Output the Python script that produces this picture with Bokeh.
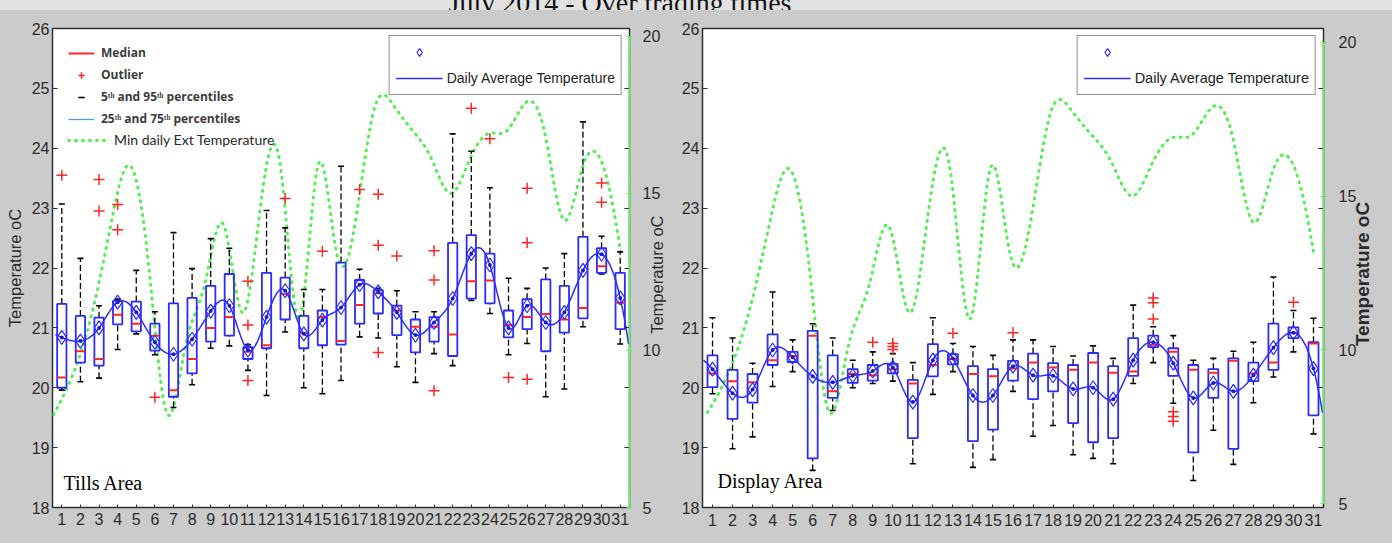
import numpy as np
from bokeh.plotting import figure
from bokeh.layouts import row, column
from bokeh.models import Range1d, LinearAxis, FixedTicker, Legend, LegendItem, Label, Div
from bokeh.embed import file_html
from bokeh.resources import INLINE

days = list(range(1, 32))
temp_ticks = list(range(18, 27))
ext_ticks = [5, 10, 15, 20]

# Tills area: daily distribution of store temperature, July 2014 (oC)
tills_p5 = [19.96, 20.10, 20.16, 20.64, 20.90, 20.55, 19.67, 20.05, 20.66, 20.70,
            20.29, 19.87, 20.93, 20.00, 19.90, 20.12, 20.85, 20.83, 20.35, 20.09,
            20.57, 20.37, 21.46, 21.24, 20.55, 20.74, 19.85, 19.98, 21.02, 21.90, 20.73]
tills_q1 = [20.00, 20.42, 20.37, 21.06, 20.94, 20.62, 19.85, 20.24, 20.77, 20.87,
            20.48, 20.66, 21.14, 20.66, 20.71, 20.72, 21.07, 21.24, 20.88, 20.59,
            20.77, 20.53, 21.49, 21.41, 20.84, 20.98, 20.61, 20.92, 21.16, 21.92, 20.98]
tills_median = [20.17, 20.61, 20.48, 21.22, 21.07, 20.87, 19.96, 20.48, 21.00, 21.18,
                20.60, 20.71, 21.56, 20.91, 21.18, 20.78, 21.38, 21.58, 21.29, 21.02,
                21.02, 20.89, 21.78, 21.79, 21.05, 21.18, 21.23, 21.14, 21.33, 22.03, 21.42]
tills_q3 = [21.40, 21.20, 21.17, 21.45, 21.44, 21.07, 21.41, 21.50, 21.70, 21.90,
            20.68, 21.92, 21.84, 21.20, 21.29, 22.09, 21.80, 21.63, 21.37, 21.14,
            21.18, 22.42, 22.55, 22.24, 21.29, 21.48, 21.81, 21.70, 22.52, 22.33, 21.92]
tills_p95 = [23.07, 22.16, 21.37, 21.48, 21.96, 21.27, 22.59, 21.99, 22.49, 22.33,
             20.72, 22.96, 22.67, 21.64, 21.64, 23.70, 21.98, 21.66, 21.62, 21.27,
             21.27, 24.24, 23.95, 23.34, 21.83, 21.66, 22.00, 22.24, 24.44, 22.53, 22.27]
tills_mean = [20.84, 20.78, 21.00, 21.43, 21.26, 20.76, 20.56, 20.81, 21.28, 21.37,
              20.63, 21.18, 21.62, 20.90, 21.13, 21.34, 21.72, 21.60, 21.26, 20.88,
              21.09, 21.49, 22.24, 22.05, 21.00, 21.37, 21.09, 21.26, 21.96, 22.23, 21.50]
tills_outlier_day = [1, 3, 3, 4, 4, 6, 11, 11, 11, 13, 15, 17, 18, 18, 18, 19,
                     21, 21, 21, 23, 24, 25, 26, 26, 26, 30, 30]
tills_outlier_temp = [23.55, 23.48, 22.95, 23.06, 22.64, 19.84, 21.78, 21.05, 20.12,
                      23.16, 22.28, 23.31, 23.23, 22.38, 20.59, 22.20, 22.29, 21.80,
                      19.95, 24.67, 24.16, 20.17, 23.33, 22.42, 20.14, 23.42, 23.10]

# Display area
display_p5 = [19.90, 18.98, 19.18, 20.02, 20.27, 18.62, 19.62, 20.00, 20.07, 20.11,
              18.73, 19.89, 20.27, 18.67, 18.80, 19.94, 19.19, 19.37, 18.88, 18.82,
              18.73, 20.07, 20.42, 19.74, 18.45, 19.29, 18.72, 19.75, 20.18, 20.60, 19.23]
display_q1 = [20.01, 19.48, 19.75, 20.38, 20.43, 18.82, 19.83, 20.08, 20.12, 20.24,
              19.16, 20.19, 20.39, 19.11, 19.30, 20.12, 19.81, 19.94, 19.41, 19.09,
              19.16, 20.20, 20.68, 20.20, 18.92, 19.83, 18.98, 20.11, 20.30, 20.83, 19.54]
display_median = [20.24, 20.11, 20.09, 20.46, 20.53, 20.87, 19.94, 20.23, 20.21, 20.31,
                  20.07, 20.38, 20.48, 20.23, 20.19, 20.32, 20.42, 20.34, 20.30, 20.42,
                  20.25, 20.27, 20.72, 20.60, 20.30, 20.25, 20.45, 20.24, 20.42, 20.92, 20.74]
display_q3 = [20.54, 20.30, 20.23, 20.89, 20.60, 20.95, 20.54, 20.31, 20.38, 20.40,
              20.13, 20.73, 20.56, 20.36, 20.31, 20.45, 20.57, 20.41, 20.38, 20.58,
              20.36, 20.83, 20.87, 20.66, 20.38, 20.31, 20.49, 20.42, 21.07, 21.01, 20.76]
display_p95 = [21.17, 20.83, 20.41, 21.60, 20.80, 21.07, 20.83, 20.46, 20.60, 20.57,
               20.42, 21.17, 20.74, 20.69, 20.54, 20.80, 20.80, 20.69, 20.53, 20.70,
               20.49, 21.38, 21.02, 20.87, 20.46, 20.49, 20.61, 20.76, 21.85, 21.29, 21.16]
display_mean = [20.31, 19.91, 19.97, 20.63, 20.51, 20.19, 20.09, 20.20, 20.28, 20.34,
                19.76, 20.46, 20.49, 19.87, 19.87, 20.36, 20.21, 20.20, 19.98, 20.00,
                19.81, 20.46, 20.76, 20.41, 19.83, 20.08, 19.94, 20.21, 20.67, 20.92, 20.32]
display_outlier_day = [9, 10, 10, 10, 13, 16, 23, 23, 23, 24, 24, 24, 30]
display_outlier_temp = [20.76, 20.64, 20.69, 20.74, 20.91, 20.92, 21.50, 21.42, 21.15,
                        19.60, 19.52, 19.44, 21.43]

# Minimum daily external temperature (right-hand scale)
min_ext_temp = [7.96, 9.2, 11.1, 13.9, 15.9, 12.9, 8.0, 10.2, 12.1, 14.0,
                11.2, 14.8, 15.9, 11.0, 15.9, 13.05, 14.2, 17.75, 17.8, 17.0,
                16.1, 15.0, 16.05, 16.9, 17.0, 17.9, 16.9, 14.15, 15.85, 16.0, 13.15]

BG = "#cbcbcb"
INK = "#2b2b2b"
BLUE = "#2b2bff"
RED = "#ff2626"
GREEN = "#52ee52"
GREEN_AXIS = "#5cf05c"
FRAME = "#303030"
AXIS_TITLE = "Temperature oC"


def spline(xk, yk, xs):
    """Not-a-knot cubic spline through (xk, yk), evaluated at xs."""
    xk = np.asarray(xk, float)
    yk = np.asarray(yk, float)
    n = len(xk)
    h = np.diff(xk)
    A = np.zeros((n, n))
    b = np.zeros(n)
    for i in range(1, n - 1):
        A[i, i - 1] = h[i - 1]
        A[i, i] = 2 * (h[i - 1] + h[i])
        A[i, i + 1] = h[i]
        b[i] = 6 * ((yk[i + 1] - yk[i]) / h[i] - (yk[i] - yk[i - 1]) / h[i - 1])
    A[0, 0], A[0, 1], A[0, 2] = h[1], -(h[0] + h[1]), h[0]
    A[-1, -3], A[-1, -2], A[-1, -1] = h[-1], -(h[-2] + h[-1]), h[-2]
    M = np.linalg.solve(A, b)
    i = np.clip(np.searchsorted(xk, xs) - 1, 0, n - 2)
    t = xs - xk[i]
    hi = h[i]
    c1 = (yk[i + 1] - yk[i]) / hi - hi * (2 * M[i] + M[i + 1]) / 6
    return yk[i] + c1 * t + M[i] / 2 * t ** 2 + (M[i + 1] - M[i]) / (6 * hi) * t ** 3


def draw_panel(area, p5, q1, med, q3, p95, mean, out_day, out_temp, lay):
    p = figure(width=lay["width"], height=533, title=None,
               x_range=Range1d(0.5, 31.5), y_range=Range1d(18, 26),
               output_backend="svg", toolbar_location=None,
               min_border_left=lay["left"], min_border_right=lay["right"],
               min_border_top=lay["top"], min_border_bottom=lay["bottom"],
               background_fill_color="white", border_fill_color=BG,
               outline_line_color=FRAME, outline_line_width=1.5)
    p.extra_x_ranges = {"ext_x": Range1d(*lay["ext_x"])}
    p.extra_y_ranges = {"ext_y": Range1d(*lay["ext_y"])}
    p.xgrid.visible = False
    p.ygrid.visible = False

    d = np.array(days, float)
    half = 0.25

    # external minimum temperature, smooth dotted curve on its own scale
    gx = np.linspace(days[0], days[-1], 700)
    ext_line = p.line(gx, spline(d, min_ext_temp, gx), x_range_name="ext_x", y_range_name="ext_y",
                      line_color=GREEN, line_width=3, line_dash="1 6", line_cap="round")

    # whiskers to the 5th / 95th percentiles
    p.segment(x0=d, y0=q3, x1=d, y1=p95, line_color="black", line_width=1.3, line_dash="6 3")
    p.segment(x0=d, y0=p5, x1=d, y1=q1, line_color="black", line_width=1.3, line_dash="6 3")
    caps = p.scatter(x=np.concatenate([d, d]), y=np.concatenate([p5, p95]), marker="dash",
                     size=6, line_color="black", line_width=1.6)

    # interquartile boxes and medians
    p.quad(left=d - half, right=d + half, bottom=q1, top=q3,
           fill_color=None, line_color=BLUE, line_width=1.8)
    quart_key = p.line(d, q3, line_color="#4f9be6", line_width=1.3, visible=False)
    medians = p.segment(x0=d - half, y0=med, x1=d + half, y1=med, line_color=RED, line_width=2)

    outliers = p.scatter(x=out_day, y=out_temp, marker="cross", size=11,
                         line_color=RED, line_width=1.5)

    # daily average: smooth curve through the daily means
    xs = np.linspace(lay["line_x"][0], lay["line_x"][1], 500)
    avg_line = p.line(xs, spline(d, mean, xs), line_color=BLUE, line_width=1.5)
    p.scatter(d, mean, marker="circle", size=4, fill_color="#1a1acc", line_color=None)
    diamonds = p.scatter(d, mean, marker="diamond", size=14, fill_color=None,
                         line_color=BLUE, line_width=1.2)

    # axes
    xb = p.xaxis[0]
    yl = p.yaxis[0]
    for ax in (xb, yl):
        ax.axis_line_color = None
        ax.major_tick_line_color = FRAME
        ax.minor_tick_line_color = None
        ax.major_tick_out = 0
        ax.major_label_text_font = "Liberation Sans"
        ax.major_label_text_font_size = "16px"
        ax.major_label_text_color = INK
    xb.ticker = FixedTicker(ticks=days)
    xb.major_tick_in = 3
    xb.major_label_standoff = lay["x_standoff"]
    yl.ticker = FixedTicker(ticks=temp_ticks)
    yl.major_tick_in = 5
    yl.major_label_standoff = 3
    if lay["left_label"]:
        yl.axis_label = AXIS_TITLE
        yl.axis_label_text_font = "Liberation Sans"
        yl.axis_label_text_font_size = "16.5px"
        yl.axis_label_text_font_style = "normal"
        yl.axis_label_text_color = INK
        yl.axis_label_standoff = 5

    mirror = LinearAxis(ticker=FixedTicker(ticks=temp_ticks), axis_line_color=None,
                        major_tick_in=5, major_tick_out=0, minor_tick_line_color=None,
                        major_tick_line_color=FRAME, major_label_standoff=0,
                        major_label_overrides={t: "" for t in temp_ticks},
                        major_label_text_font_size="1px")
    p.add_layout(mirror, "right")

    ext_axis = LinearAxis(y_range_name="ext_y", ticker=FixedTicker(ticks=ext_ticks), bounds=(5, 20),
                          axis_line_color=GREEN_AXIS, axis_line_width=1.5,
                          major_tick_line_color=GREEN_AXIS, major_tick_in=3, major_tick_out=3,
                          minor_tick_line_color=None, major_label_standoff=lay["ext_standoff"],
                          major_label_text_font="Liberation Sans", major_label_text_font_size="16px",
                          major_label_text_color=INK)
    p.add_layout(ext_axis, "right")

    # title of the right-hand scale, reading bottom to top; it starts at title_at
    at = lay["title_at"]
    title_axis = LinearAxis(y_range_name="ext_y", ticker=FixedTicker(ticks=[at]),
                            major_label_overrides={at: AXIS_TITLE},
                            major_label_orientation=np.pi / 2,
                            axis_line_color=None, major_tick_line_color=None,
                            minor_tick_line_color=None, major_tick_in=0, major_tick_out=0,
                            major_label_standoff=lay["title_standoff"],
                            major_label_text_font="Liberation Sans",
                            major_label_text_font_size=lay["title_size"],
                            major_label_text_font_style=lay["title_style"],
                            major_label_text_color=INK)
    p.add_layout(title_axis, "right")

    avg_legend = Legend(items=[LegendItem(label=" ", renderers=[diamonds]),
                               LegendItem(label="Daily Average Temperature", renderers=[avg_line])],
                        location="top_right", margin=7, padding=6, spacing=6,
                        glyph_width=47, glyph_height=20, label_height=20, label_standoff=4,
                        label_text_font="Liberation Sans", label_text_font_size=lay["legend_size"],
                        label_text_color="#222222", border_line_color="#222222", border_line_width=1,
                        background_fill_color="white", background_fill_alpha=1)
    p.add_layout(avg_legend)

    if lay["key"]:
        key = Legend(items=[LegendItem(label="Median", renderers=[medians]),
                            LegendItem(label="Outlier", renderers=[outliers]),
                            LegendItem(label="5ᵗʰ and 95ᵗʰ percentiles", renderers=[caps]),
                            LegendItem(label="25ᵗʰ and 75ᵗʰ percentiles", renderers=[quart_key])],
                     location="top_left", margin=16, padding=4, spacing=5,
                     glyph_width=26, glyph_height=16, label_height=16, label_standoff=7,
                     label_text_font="Open Sans", label_text_font_style="bold",
                     label_text_font_size="12px", label_text_color="#3c3c3c",
                     border_line_color=None, background_fill_alpha=0)
        p.add_layout(key)
        ext_key = Legend(items=[LegendItem(label="Min daily Ext Temperature", renderers=[ext_line])],
                         location=(16, 359), margin=0, padding=0,
                         glyph_width=40, glyph_height=16, label_height=16, label_standoff=6,
                         label_text_font="'Liberation Sans Narrow', Lato, sans-serif",
                         label_text_font_size="14px", label_text_color="#2a2a2a",
                         border_line_color=None, background_fill_alpha=0)
        p.add_layout(ext_key)

    p.add_layout(Label(x=lay["area_xy"][0], y=lay["area_xy"][1], x_units="screen", y_units="screen",
                       text=area, text_font="Liberation Serif", text_font_size="20px",
                       text_color="black"))
    return p


tills = draw_panel("Tills Area", tills_p5, tills_q1, tills_median, tills_q3, tills_p95, tills_mean,
                   tills_outlier_day, tills_outlier_temp,
                   dict(width=678, left=52, right=49, top=17, bottom=36,
                        ext_x=(0.947, 31.476), ext_y=(5.0, 20.25), line_x=(0.66, 31.45),
                        x_standoff=5, left_label=True, ext_standoff=10,
                        title_at=10.53, title_standoff=-6, title_size="16.5px", title_style="normal",
                        legend_size="14px", key=True, area_xy=(11, 14)))

display = draw_panel("Display Area", display_p5, display_q1, display_median, display_q3, display_p95,
                     display_mean, display_outlier_day, display_outlier_temp,
                     dict(width=714, left=22, right=69, top=18, bottom=26,
                          ext_x=(0.753, 31.49), ext_y=(4.87, 20.45), line_x=(0.55, 31.45),
                          x_standoff=6, left_label=False, ext_standoff=12,
                          title_at=10.12, title_standoff=3, title_size="19px", title_style="bold",
                          legend_size="14.5px", key=False, area_xy=(15, 16)))

title = Div(text=('<div style="width:1240px;text-align:center;font-family:\'Liberation Serif\';'
                  'font-size:28px;line-height:28px;margin-top:-21px;color:#111111;">'
                  'July 2014 - Over trading times</div>'),
            width=1392, height=10, margin=0,
            styles={"background-color": "#e2e2e2", "overflow": "hidden"})

panels = row(tills, display, spacing=0, styles={"background-color": BG})
layout = column(title, panels, spacing=0, styles={"background-color": BG})

with open("out.html", "w") as f:
    f.write(file_html(layout, INLINE))
